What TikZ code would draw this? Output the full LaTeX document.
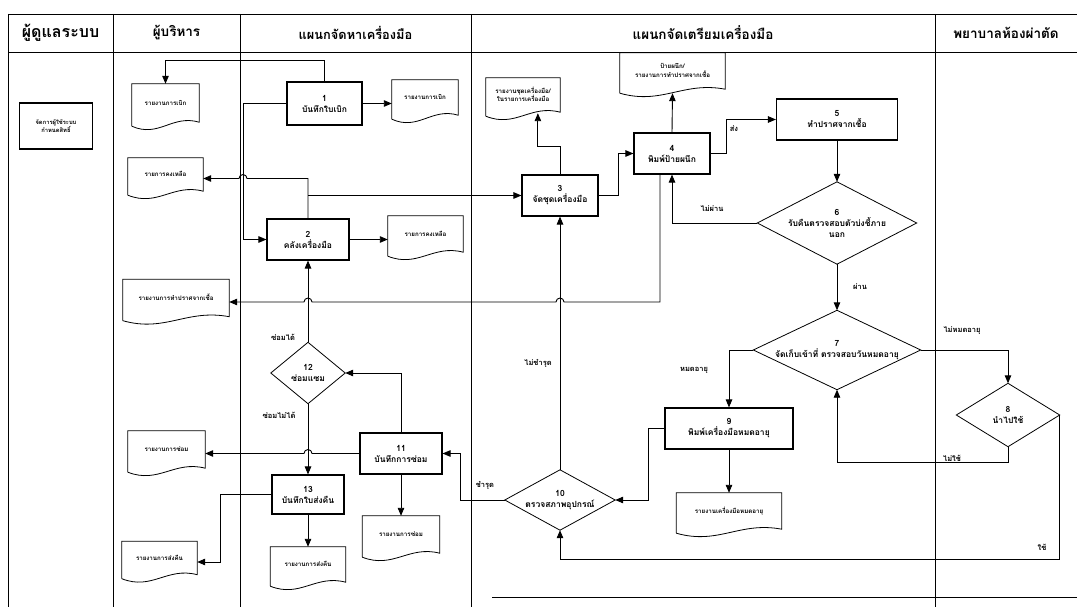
\documentclass[tikz,border=0pt]{standalone}
\usepackage{fontspec}
\setmainfont[Script=Thai]{Loma}
\usetikzlibrary{arrows.meta,calc}
\newcommand\docoutline[1]{\draw[docline] ([yshift=4pt]#1.south west) -- (#1.north west) -- (#1.north east) -- ([yshift=8pt]#1.south east) .. controls ($(#1.south west)!0.6!(#1.south east)+(0,-16)$) and ($(#1.south west)!0.4!(#1.south east)+(0,8)$) .. ([yshift=4pt]#1.south west);}
\newcommand\diaoutline[1]{\draw[dialine] (#1.north) -- (#1.east) -- (#1.south) -- (#1.west) -- cycle;}
\tikzset{
 lane/.style={line width=0.9pt},
 pbox/.style={draw, line width=1.1pt, align=center, inner sep=1pt, font=\fontsize{8.5}{11}\selectfont\bfseries},
 dbox/.style={draw=none, align=center, inner sep=1pt, text depth=9pt, font=\fontsize{6.2}{8.5}\selectfont\bfseries},
 dia/.style={draw=none, align=center, inner sep=0pt, font=\fontsize{8.5}{11}\selectfont\bfseries},
 arr/.style={line width=0.9pt, -{Triangle[length=8pt,width=6.5pt]}},
 lbl/.style={font=\fontsize{7.5}{9}\selectfont\bfseries, inner sep=0pt},
 hdr/.style={font=\fontsize{13.5}{16}\selectfont\bfseries, inner sep=0pt},
 docline/.style={line width=0.8pt},
 dialine/.style={line width=0.8pt},
}
\begin{document}
\begin{tikzpicture}[x=1pt,y=-1pt]
\useasboundingbox (0,0) rectangle (1077,607);
\fill[white] (0,0) rectangle (1077,607);
% lanes
\draw[lane] (8,14) -- (1077,14);
\draw[lane] (8,52) -- (1077,52);
\foreach \xx in {8,113,240,471,935}{\draw[lane] (\xx,14) -- (\xx,607);}
\draw[lane] (492,597) -- (1077,597);
\node[hdr, font=\fontsize{16}{18}\selectfont\bfseries] (h1) at (60.5,33) {ผู้ดูแลระบบ};
\node[hdr] (h2) at (176.5,33) {ผู้บริหาร};
\node[hdr, font=\fontsize{12.8}{16}\selectfont\bfseries] (h3) at (355.5,33) {แผนกจัดหาเครื่องมือ};
\node[hdr] (h4) at (703,33) {แผนกจัดเตรียมเครื่องมือ};
\node[hdr] (h5) at (1006,33) {พยาบาลห้องผ่าตัด};
% admin
\node[pbox, minimum width=73pt, minimum height=46pt, font=\fontsize{5.8}{8}\selectfont\bfseries] (adm) at (56,126) {จัดการผู้ใช้ระบบ\\กำหนดสิทธิ์};
% executive docs
\node[dbox, minimum width=67pt, minimum height=46pt] (dA) at (165.5,107) {รายงานการเบิก};
\node[dbox, minimum width=75pt, minimum height=41pt] (dB) at (165.5,178.5) {รายการคงเหลือ};
\node[dbox, minimum width=106pt, minimum height=45pt] (dC) at (176,302) {รายงานการทำปราศจากเชื้อ};
\node[dbox, minimum width=77pt, minimum height=45pt] (dD) at (166.5,453.5) {รายงานการซ่อม};
\node[dbox, minimum width=75pt, minimum height=41pt] (dE) at (159.5,562) {รายงานการส่งคืน};
% procurement
\node[pbox, minimum width=75pt, minimum height=43pt] (b1) at (324.5,103.5) {1\\บันทึกใบเบิก};
\node[dbox, minimum width=66pt, minimum height=43pt] (d1) at (425,101.5) {รายงานการเบิก};
\node[pbox, minimum width=82pt, minimum height=41pt] (b2) at (308,239.5) {2\\คลังเครื่องมือ};
\node[dbox, minimum width=75pt, minimum height=44pt] (d2) at (425.5,238) {รายการคงเหลือ};
\node[dia, minimum width=74pt, minimum height=61pt] (k12) at (308,373) {12\\ซ่อมแซม};
\node[pbox, minimum width=82pt, minimum height=41pt] (b11) at (401,453.5) {11\\บันทึกการซ่อม};
\node[dbox, minimum width=77pt, minimum height=45pt] (d11) at (401,538.5) {รายงานการซ่อม};
\node[pbox, minimum width=72pt, minimum height=39pt] (b13) at (308,494.5) {13\\บันทึกใบส่งคืน};
\node[dbox, minimum width=75pt, minimum height=43pt] (d13) at (308,568.5) {รายงานการส่งคืน};
% preparation
\node[pbox, minimum width=76pt, minimum height=41pt] (b3) at (560,195.5) {3\\จัดชุดเครื่องมือ};
\node[dbox, minimum width=74pt, minimum height=42pt] (d3) at (523,99) {รายงานชุดเครื่องมือ/\\ในรายการเครื่องมือ};
\node[pbox, minimum width=76pt, minimum height=41pt] (b4) at (672,153.5) {4\\พิมพ์ป้ายผนึก};
\node[dbox, minimum width=105pt, minimum height=44pt] (d4) at (672.5,75) {ป้ายผนึก/\\รายงานการทำปราศจากเชื้อ};
\node[pbox, minimum width=121pt, minimum height=41pt] (b5) at (837,119.5) {5\\ทำปราศจากเชื้อ};
\node[dia, minimum width=159pt, minimum height=82pt] (k6) at (837,223) {6\\รับคืนตรวจสอบตัวบ่งชี้ภาย\\นอก};
\node[dia, minimum width=167pt, minimum height=79pt] (k7) at (837,350) {7\\จัดเก็บเข้าที่ ตรวจสอบวันหมดอายุ};
\node[dia, minimum width=103pt, minimum height=63pt] (k8) at (1008,415) {8\\นำไปใช้};
\node[pbox, minimum width=128pt, minimum height=41pt] (b9) at (729,428.5) {9\\พิมพ์เครื่องมือหมดอายุ};
\node[dbox, minimum width=105pt, minimum height=44pt] (d9) at (729,515) {รายงานเครื่องมือหมดอายุ};
\node[dia, minimum width=110pt, minimum height=60pt] (k10) at (560,500) {10\\ตรวจสภาพอุปกรณ์};
% outlines
\foreach \n in {dA,dB,dC,dD,dE,d1,d2,d11,d13,d3,d4,d9}{\docoutline{\n}}
\foreach \n in {k6,k7,k8,k10,k12}{\diaoutline{\n}}
% labels
\node[lbl] (l45) at (734,129) {ส่ง};
\node[lbl] (l64) at (712,209) {ไม่ผ่าน};
\node[lbl] (l67) at (860,287) {ผ่าน};
\node[lbl] (l78) at (962,331) {ไม่หมดอายุ};
\node[lbl] (l79) at (694,370) {หมดอายุ};
\node[lbl] (l87) at (952,458) {ไม่ใช้};
\node[lbl] (l810) at (1042,547) {ใช้};
\node[lbl] (l103) at (538,363) {ไม่ชำรุด};
\node[lbl] (l1011) at (485,485) {ชำรุด};
\node[lbl] (l122) at (283,337) {ซ่อมได้};
\node[lbl] (l1213) at (279,415) {ซ่อมไม่ได้};
% routing coordinates
\coordinate (r1) at (243,0);
\coordinate (h1) at (r1 |- dB.east);
\coordinate (s4) at ([xshift=-12pt]b4.south);
\coordinate (t4) at (s4 |- dC.east);
\coordinate (hp2) at (k10.north |- dC.east);
\coordinate (hp3) at (k12.north |- dC.east);
\coordinate (hp4) at (k12.south |- b11.west);
\coordinate (w3) at ($(d3.south west)!0.7!(d3.south east)+(0,-7)$);
\coordinate (ybot) at (0,559);
% connectors
\draw[arr] (b1.north) -- ++(0,-21) -| (dA.north);
\draw[arr] (b1.east) -- (b1.east -| d1.west);
\draw[arr] (b1.west) -- (b1.west -| r1) |- (b2.west);
\draw[arr] (b2.north) |- ([xshift=4pt]h1) arc[start angle=0,end angle=180,radius=4pt] -- (dB.east);
\draw[arr] (b2.north |- b3.west) -- (b3.west);
\draw[arr] (b2.east) -- (b2.east -| d2.west);
\draw[arr] (b3.north) -- ++(0,-28) -| (w3);
\draw[arr] (b3.east) -- ++(20,0) |- (b4.west);
\draw[arr] (b4.north) -- ([yshift=4pt]d4.south);
\draw[arr] (b4.east) -- ++(16,0) |- (b5.west);
\draw[arr] (b5.south) -- (k6.north);
\draw[arr] (k6.west) -| (b4.south);
\draw[arr] (k6.south) -- (k7.north);
\draw[arr] (s4) -- (t4) -- ([xshift=4pt]hp2) arc[start angle=0,end angle=180,radius=4pt] -- ([xshift=4pt]hp3) arc[start angle=0,end angle=180,radius=4pt] -- (dC.east);
\draw[arr] (k7.west) -| (b9.north);
\draw[arr] (k7.east) -| (k8.north);
\draw[arr] (k8.south) -- ++(0,16) -| (k7.south);
\draw[arr] (k8.east) -- (k8.east |- ybot) -| (k10.south);
\draw[arr] (b9.west) -- ++(-16,0) |- (k10.east);
\draw[arr] (b9.south) -- (d9.north);
\draw[arr] (k10.north) -- (b3.south);
\draw[arr] (k10.west) -- ++(-44,0) |- (b11.east);
\draw[arr] (b11.north) |- (k12.east);
\draw[arr] (b11.south) -- (d11.north);
\draw[arr] (b11.west) -- ([xshift=4pt]hp4) arc[start angle=0,end angle=180,radius=4pt] -- (dD.east);
\draw[arr] (k12.north) -- (b2.south);
\draw[arr] (k12.south) -- (b13.north);
\draw[arr] (b13.west) -- ++(-51,0) |- (dE.east);
\draw[arr] (b13.south) -- (d13.north);
\end{tikzpicture}
\end{document}
